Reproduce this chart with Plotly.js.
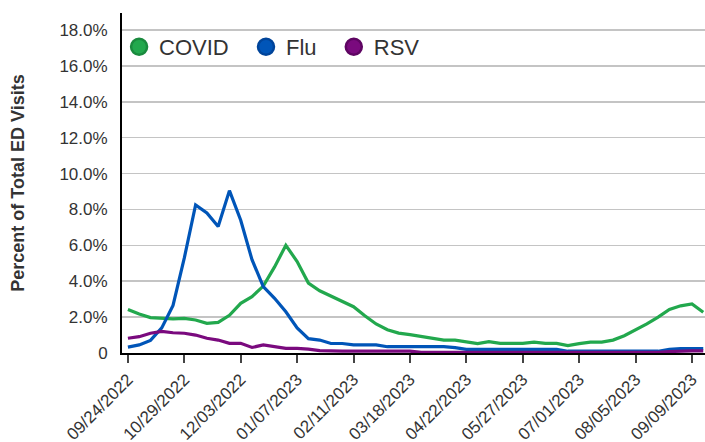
<!DOCTYPE html>
<html>
<head>
<meta charset="utf-8">
<script src="https://cdn.plot.ly/plotly-3.0.1.min.js"></script>
<style>html,body{margin:0;padding:0;background:#fff;}#chart{width:705px;height:442px;}</style>
</head>
<body>
<div id="chart"></div>
<script>
var weeks = ["2022-09-24","2022-10-01","2022-10-08","2022-10-15","2022-10-22","2022-10-29","2022-11-05","2022-11-12","2022-11-19","2022-11-26",
"2022-12-03","2022-12-10","2022-12-17","2022-12-24","2022-12-31","2023-01-07","2023-01-14","2023-01-21","2023-01-28","2023-02-04",
"2023-02-11","2023-02-18","2023-02-25","2023-03-04","2023-03-11","2023-03-18","2023-03-25","2023-04-01","2023-04-08","2023-04-15",
"2023-04-22","2023-04-29","2023-05-06","2023-05-13","2023-05-20","2023-05-27","2023-06-03","2023-06-10","2023-06-17","2023-06-24",
"2023-07-01","2023-07-08","2023-07-15","2023-07-22","2023-07-29","2023-08-05","2023-08-12","2023-08-19","2023-08-26","2023-09-02",
"2023-09-09","2023-09-16"];

var covid = [2.43,2.17,1.97,1.93,1.9,1.93,1.84,1.65,1.71,2.1,
2.77,3.14,3.73,4.8,6.0,5.1,3.9,3.47,3.17,2.9,
2.58,2.08,1.62,1.3,1.11,1.02,0.91,0.82,0.72,0.72,
0.61,0.52,0.63,0.54,0.54,0.54,0.61,0.54,0.54,0.41,
0.52,0.61,0.61,0.72,0.96,1.28,1.62,2.0,2.43,2.63,
2.73,2.27];

var flu = [0.33,0.45,0.7,1.4,2.65,5.3,8.25,7.8,7.05,9.05,
7.4,5.2,3.7,3.05,2.3,1.4,0.8,0.72,0.53,0.53,
0.45,0.45,0.45,0.35,0.35,0.35,0.35,0.35,0.35,0.3,
0.2,0.2,0.2,0.2,0.2,0.2,0.2,0.2,0.2,0.1,
0.1,0.1,0.1,0.1,0.1,0.1,0.1,0.1,0.2,0.25,
0.25,0.25];

var rsv = [0.82,0.91,1.1,1.2,1.13,1.1,1.0,0.82,0.72,0.54,
0.54,0.31,0.45,0.35,0.26,0.26,0.22,0.13,0.1,0.1,
0.1,0.1,0.1,0.1,0.1,0.1,0.03,0.03,0.03,0.03,
0.03,0.03,0.03,0.03,0.03,0.03,0.03,0.03,0.03,0.03,
0.03,0.03,0.03,0.03,0.03,0.03,0.03,0.03,0.08,0.12,
0.12,0.12];

var seriesNames = ["COVID","Flu","RSV"];
var xTickVals = ["2022-09-24","2022-10-29","2022-12-03","2023-01-07","2023-02-11","2023-03-18","2023-04-22","2023-05-27","2023-07-01","2023-08-05","2023-09-09"];
var xTickText = ["09/24/2022","10/29/2022","12/03/2022","01/07/2023","02/11/2023","03/18/2023","04/22/2023","05/27/2023","07/01/2023","08/05/2023","09/09/2023"];
var yTickVals = [0,2,4,6,8,10,12,14,16,18];
var yTickText = ["0","2.0%","4.0%","6.0%","8.0%","10.0%","12.0%","14.0%","16.0%","18.0%"];

var colors = ["#22a84d","#0055b8","#7a0a7e"];
var edge = ["#1a8a3e","#00449a","#5e0562"];
var values = [covid, flu, rsv];

var traces = [];
for (var i = 0; i < 3; i++) {
  traces.push({
    x: weeks, y: values[i], type: "scatter", mode: "lines",
    line: {color: colors[i], width: 3.2}, showlegend: false, hoverinfo: "skip"
  });
}
var pad = ["\u00a0\u00a0","\u00a0\u00a0",""];
for (var j = 0; j < 3; j++) {
  traces.push({
    x: [null], y: [null], type: "scatter", mode: "markers",
    name: seriesNames[j] + pad[j],
    marker: {color: colors[j], size: 16, line: {color: edge[j], width: 2.5}},
    showlegend: true
  });
}

var layout = {
  width: 705, height: 442,
  margin: {l: 122, r: 0, t: 13, b: 89},
  paper_bgcolor: "#fff", plot_bgcolor: "#fff",
  font: {family: "Liberation Sans, Arial, sans-serif", color: "#333"},
  showlegend: true,
  legend: {orientation: "h", x: -0.005, xanchor: "left", y: 0.9, yanchor: "middle",
    font: {size: 22, color: "#333"}, bgcolor: "rgba(0,0,0,0)", itemclick: false},
  xaxis: {
    type: "date",
    range: ["2022-09-20 08:00", "2023-09-17 02:00"],
    tickmode: "array", tickvals: xTickVals, ticktext: xTickText,
    tickangle: -45, tickfont: {size: 17, color: "#333"},
    ticks: "outside", ticklen: 8, tickwidth: 2, tickcolor: "#444",
    showline: true, linecolor: "#000", linewidth: 2,
    showgrid: false, zeroline: false
  },
  yaxis: {
    range: [0, 18.95],
    tickmode: "array", tickvals: yTickVals, ticktext: yTickText,
    tickfont: {size: 17, color: "#333"},
    ticks: "", ticklabelstandoff: 9,
    showline: true, linecolor: "#000", linewidth: 2,
    showgrid: true, gridcolor: "#c4c4c4", gridwidth: 1.5,
    zeroline: false,
    title: {text: "Percent of Total ED Visits", font: {size: 18, color: "#333", weight: "bold"}, standoff: 30}
  }
};

Plotly.newPlot("chart", traces, layout, {staticPlot: true, displayModeBar: false});
</script>
</body>
</html>
